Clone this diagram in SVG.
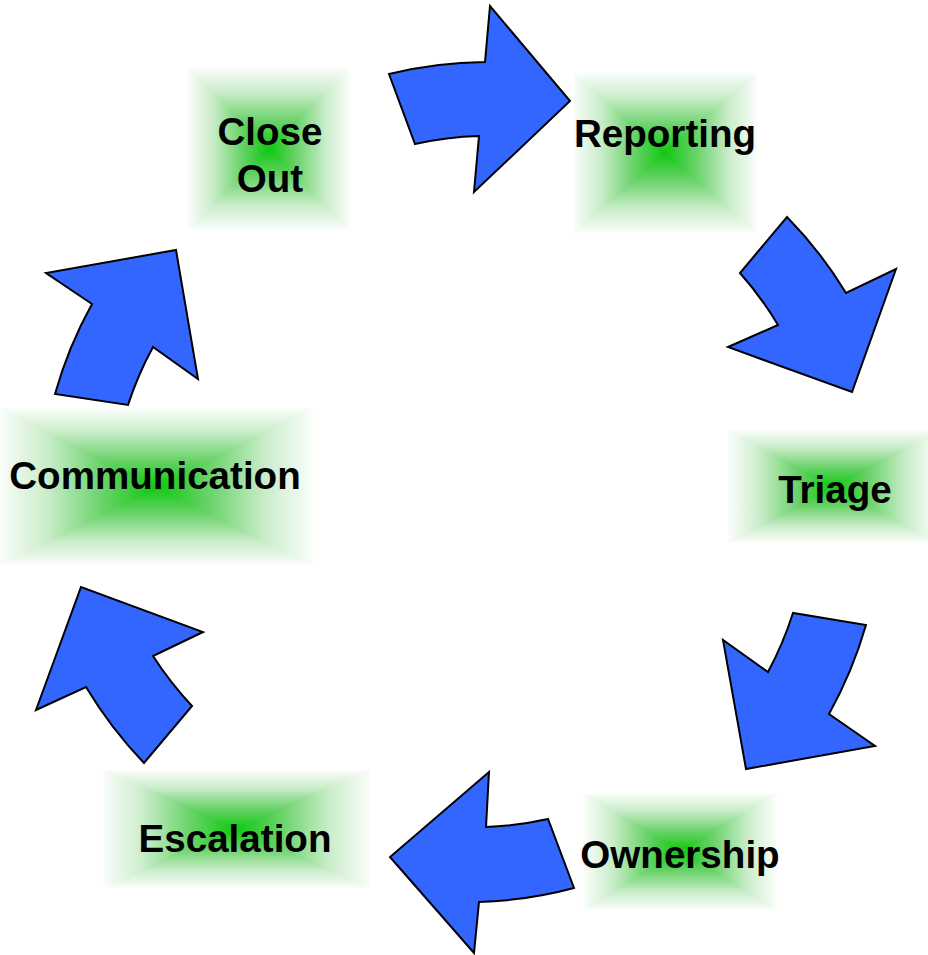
<svg xmlns="http://www.w3.org/2000/svg" width="928" height="955" viewBox="0 0 928 955">
  <defs>
    <!-- rectangular glow: four triangles, each shading from centre to its own edge -->
    <linearGradient id="g-up" x1="0" y1="1" x2="0" y2="0">
      <stop offset="0" stop-color="#10c810"/>
      <stop offset="0.35" stop-color="#6cd36c"/>
      <stop offset="0.7" stop-color="#cbedcb"/>
      <stop offset="1" stop-color="#fbfdfb"/>
    </linearGradient>
    <linearGradient id="g-down" x1="0" y1="0" x2="0" y2="1">
      <stop offset="0" stop-color="#10c810"/>
      <stop offset="0.35" stop-color="#6cd36c"/>
      <stop offset="0.7" stop-color="#cbedcb"/>
      <stop offset="1" stop-color="#fbfdfb"/>
    </linearGradient>
    <linearGradient id="g-left" x1="1" y1="0" x2="0" y2="0">
      <stop offset="0" stop-color="#10c810"/>
      <stop offset="0.35" stop-color="#6cd36c"/>
      <stop offset="0.7" stop-color="#cbedcb"/>
      <stop offset="1" stop-color="#fbfdfb"/>
    </linearGradient>
    <linearGradient id="g-right" x1="0" y1="0" x2="1" y2="0">
      <stop offset="0" stop-color="#10c810"/>
      <stop offset="0.35" stop-color="#6cd36c"/>
      <stop offset="0.7" stop-color="#cbedcb"/>
      <stop offset="1" stop-color="#fbfdfb"/>
    </linearGradient>
  </defs>
  <style>
    .t { fill: url(#g-up); shape-rendering: crispEdges; }
    .b { fill: url(#g-down); shape-rendering: crispEdges; }
    .l { fill: url(#g-left); shape-rendering: crispEdges; }
    .r { fill: url(#g-right); shape-rendering: crispEdges; }
    .label { font-family: "Liberation Sans", Arial, sans-serif; font-weight: bold; font-size: 38.6px; fill: #000; text-anchor: middle; }
    .arrow { fill: #3366ff; stroke: #000; stroke-width: 2; stroke-linejoin: miter; }
  </style>
  <rect width="928" height="955" fill="#fff"/>

  <!-- Close Out: box 188..350 x 68..230 -->
  <g id="close-out">
    <polygon class="t" points="188,68 350,68 269,149"/>
    <polygon class="b" points="188,230 350,230 269,149"/>
    <polygon class="l" points="188,68 188,230 269,149"/>
    <polygon class="r" points="350,68 350,230 269,149"/>
    <text class="label" x="270" y="145">Close</text>
    <text class="label" x="270" y="192">Out</text>
  </g>

  <!-- Reporting: box 573..757 x 73..233 -->
  <g id="reporting">
    <polygon class="t" points="573,73 757,73 665,153"/>
    <polygon class="b" points="573,233 757,233 665,153"/>
    <polygon class="l" points="573,73 573,233 665,153"/>
    <polygon class="r" points="757,73 757,233 665,153"/>
    <text class="label" x="665" y="147">Reporting</text>
  </g>

  <!-- Triage: box 728..938 x 430..543 -->
  <g id="triage">
    <polygon class="t" points="728,430 938,430 833,487"/>
    <polygon class="b" points="728,543 938,543 833,487"/>
    <polygon class="l" points="728,430 728,543 833,487"/>
    <polygon class="r" points="938,430 938,543 833,487"/>
    <text class="label" x="835" y="503">Triage</text>
  </g>

  <!-- Ownership: box 583..777 x 793..910 -->
  <g id="ownership">
    <polygon class="t" points="583,793 777,793 680,851"/>
    <polygon class="b" points="583,910 777,910 680,851"/>
    <polygon class="l" points="583,793 583,910 680,851"/>
    <polygon class="r" points="777,793 777,910 680,851"/>
    <text class="label" x="680" y="868">Ownership</text>
  </g>

  <!-- Escalation: box 103..370 x 770..888 -->
  <g id="escalation">
    <polygon class="t" points="103,770 370,770 236,829"/>
    <polygon class="b" points="103,888 370,888 236,829"/>
    <polygon class="l" points="103,770 103,888 236,829"/>
    <polygon class="r" points="370,770 370,888 236,829"/>
    <text class="label" x="235" y="852">Escalation</text>
  </g>

  <!-- Communication: box -1..313 x 408..565 -->
  <g id="communication">
    <polygon class="t" points="-1,408 313,408 156,487"/>
    <polygon class="b" points="-1,565 313,565 156,487"/>
    <polygon class="l" points="-1,408 -1,565 156,487"/>
    <polygon class="r" points="313,408 313,565 156,487"/>
    <text class="label" x="155" y="489">Communication</text>
  </g>

  <!-- curved block arrows running clockwise round the cycle -->
  <g id="connectors">
    <path class="arrow" d="M389,74 A417,417 0 0 1 485,62 L490,6 L570,101 L474,192 L479,136 A344,344 0 0 0 415,144 Z"/>
    <path class="arrow" d="M787,217 A419,419 0 0 1 846,293 L896,269 L852,392 L728,347 L778,325 A345,345 0 0 0 740,273 Z"/>
    <path class="arrow" d="M866,625 A426,426 0 0 1 829,714 L875,746 L746,769 L723,640 L768,672 A352,352 0 0 0 793,613 Z"/>
    <path class="arrow" d="M574,888 A416,416 0 0 1 479,902 L474,953 L390,857 L489,772 L486,827 A342,342 0 0 0 548,819 Z"/>
    <path class="arrow" d="M144,763 A431,431 0 0 1 86,687 L36,710 L81,587 L203,632 L153,656 A357,357 0 0 0 192,706 Z"/>
    <path class="arrow" d="M55,394 A419,419 0 0 1 92,304 L46,273 L176,250 L198,379 L153,347 A346,346 0 0 0 128,405 Z"/>
  </g>
</svg>
